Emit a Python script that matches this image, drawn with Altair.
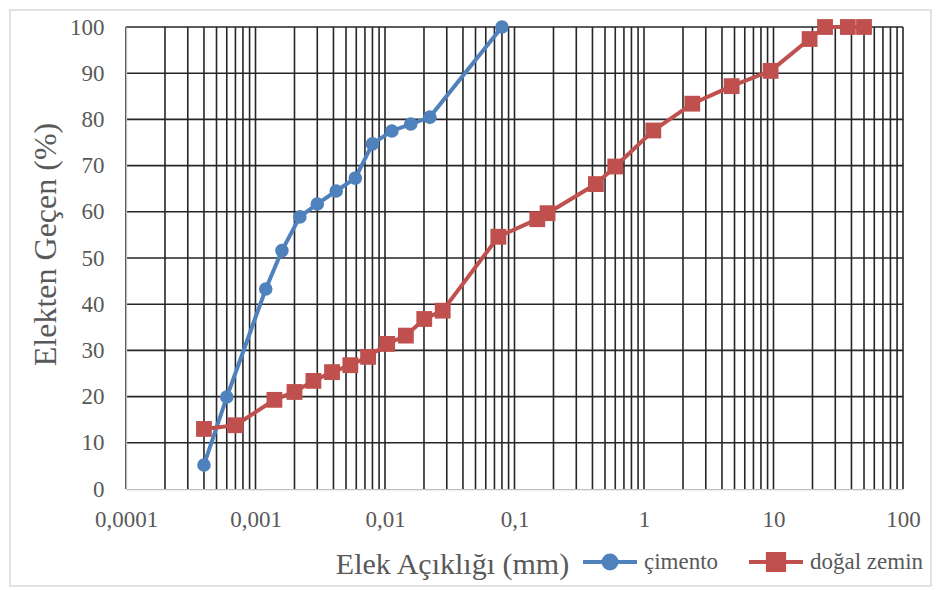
import altair as alt
import pandas as pd

series_names = ["çimento", "doğal zemin"]

cimento_x = [0.0004, 0.0006, 0.0012, 0.0016, 0.0022, 0.003, 0.0042, 0.0059,
             0.008, 0.0113, 0.0158, 0.0222, 0.08]
cimento_y = [5.2, 19.9, 43.3, 51.6, 58.9, 61.7, 64.5, 67.3, 74.7, 77.5, 79.0, 80.5, 100]

zemin_x = [0.0004, 0.0007, 0.0014, 0.002, 0.0028, 0.0039, 0.0054, 0.0074, 0.0104,
           0.0145, 0.0201, 0.0279, 0.075, 0.15, 0.18, 0.425, 0.6, 1.18, 2.36,
           4.75, 9.5, 19, 25, 37.5, 50]
zemin_y = [13.0, 13.8, 19.3, 21.0, 23.4, 25.3, 26.8, 28.6, 31.4, 33.2, 36.8, 38.6,
           54.6, 58.4, 59.7, 66.0, 69.8, 77.6, 83.4, 87.2, 90.5, 97.4, 100, 100, 100]

x_tick_values = [0.0001, 0.001, 0.01, 0.1, 1, 10, 100]
x_tick_labels = ["0,0001", "0,001", "0,01", "0,1", "1", "10", "100"]
y_tick_values = [0, 10, 20, 30, 40, 50, 60, 70, 80, 90, 100]
x_grid_values = [round(m * 10.0 ** k, 10) for k in range(-4, 2) for m in range(1, 10)] + [100]
y_grid_values = [10, 20, 30, 40, 50, 60, 70, 80, 90, 100]

BLUE = "#4f81bd"
RED = "#c0504d"
FONT = "Liberation Serif"
TXT = "#595959"
GRID = "#262626"
AXISC = "#bfbfbf"

df_c = pd.DataFrame({"x": cimento_x, "y": cimento_y, "seri": series_names[0]})
df_z = pd.DataFrame({"x": zemin_x, "y": zemin_y, "seri": series_names[1]})

xscale = alt.Scale(type="log", domain=[0.0001, 100], nice=False)
yscale = alt.Scale(domain=[0, 100], nice=False, zero=False)

label_expr = ("[" + ",".join(f"'{l}'" for l in x_tick_labels) + "][indexof(["
              + ",".join(repr(v) for v in x_tick_values) + "], datum.value)]")

x_axis = alt.Axis(values=x_tick_values, labelExpr=label_expr, grid=False, ticks=False,
                  tickSize=0, domainColor=AXISC, domainWidth=1.25, labelFont=FONT,
                  labelFontSize=23, labelColor=TXT, labelPadding=37,
                  labelBaseline="alphabetic", labelFlush=False, labelOverlap=False,
                  title="Elek Açıklığı (mm)", titleFont=FONT, titleFontSize=30,
                  titleFontWeight="normal", titleColor=TXT, titleX=326, titleY=84,
                  titleAlign="center", titleBaseline="alphabetic", zindex=1)

y_axis = alt.Axis(values=y_tick_values, grid=False, ticks=False, tickSize=0,
                  domainColor=AXISC, domainWidth=1.25, labelFont=FONT,
                  labelFontSize=23, labelColor=TXT, labelPadding=22,
                  labelBaseline="middle", labelFlush=False, labelOverlap=False,
                  title="Elekten Geçen (%)", titleFont=FONT, titleFontSize=32,
                  titleFontWeight="normal", titleColor=TXT, titleX=-71, titleY=217,
                  titleAngle=270, titleAlign="center", titleBaseline="alphabetic",
                  zindex=1)

X = alt.X("x:Q", scale=xscale, axis=x_axis)
Y = alt.Y("y:Q", scale=yscale, axis=y_axis)

frame = alt.Chart(pd.DataFrame({"k": [0]})).mark_rect(
    fill="transparent", stroke="#d9d9d9", strokeWidth=1.5
).encode(x=alt.value(-116), x2=alt.value(805), y=alt.value(-17), y2=alt.value(559))

vgrid = alt.Chart(pd.DataFrame({"gx": x_grid_values})).mark_rule(
    color=GRID, strokeWidth=1.6
).encode(x=alt.X("gx:Q", scale=xscale, axis=x_axis))

hgrid = alt.Chart(pd.DataFrame({"gy": y_grid_values})).mark_rule(
    color=GRID, strokeWidth=1.6
).encode(y=alt.Y("gy:Q", scale=yscale, axis=y_axis))

circle_sym = "M-1,0L1,0M0.24,0A0.24,0.24,0,1,1,-0.24,0A0.24,0.24,0,1,1,0.24,0Z"
square_sym = "M-1,0L1,0M-0.3,-0.3L0.3,-0.3L0.3,0.3L-0.3,0.3Z"


def legend(sym, color, lx):
    return alt.Legend(title=None, orient="none", legendX=lx, legendY=506,
                      direction="horizontal", symbolType=sym, symbolSize=2916,
                      symbolStrokeWidth=4, symbolFillColor=color,
                      symbolStrokeColor=color, symbolOpacity=1, labelFont=FONT,
                      labelFontSize=23, labelColor=TXT, labelOffset=5, padding=0)


c_line = alt.Chart(df_c).mark_line(strokeWidth=4).encode(
    x=X, y=Y,
    color=alt.Color("seri:N", scale=alt.Scale(domain=[series_names[0]], range=[BLUE]),
                    legend=legend(circle_sym, BLUE, 455)))
c_pts = alt.Chart(df_c).mark_point(filled=True, shape="circle", size=185, color=BLUE,
                                   opacity=1).encode(x=X, y=Y)

z_line = alt.Chart(df_z).mark_line(strokeWidth=4).encode(
    x=X, y=Y,
    color=alt.Color("seri:N", scale=alt.Scale(domain=[series_names[1]], range=[RED]),
                    legend=legend(square_sym, RED, 621)))
z_pts = alt.Chart(df_z).mark_point(filled=True, shape="square", size=250, color=RED,
                                   opacity=1).encode(x=X, y=Y)

chart = alt.layer(frame, vgrid, hgrid, c_line, c_pts, z_line, z_pts).resolve_scale(
    color="independent"
).properties(
    width=777, height=462, autosize="none",
    padding={"left": 118, "top": 19, "right": 30, "bottom": 101},
    background="white"
).configure(
    font=FONT
).configure_axis(
    labelFont=FONT, titleFont=FONT
).configure_legend(
    labelFont=FONT
).configure_view(strokeWidth=0)

chart.save("out.html", embed_options={"renderer": "svg", "actions": False})
